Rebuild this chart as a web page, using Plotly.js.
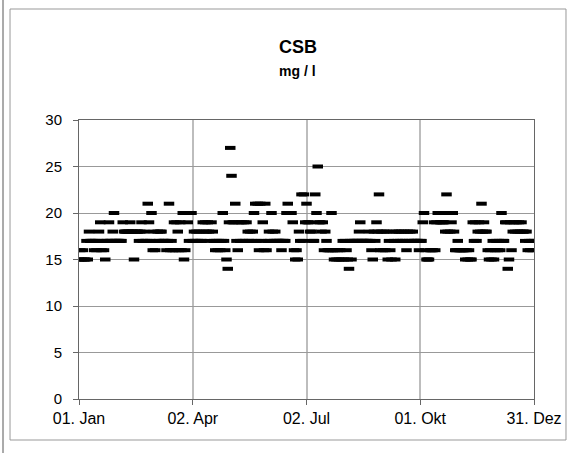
<!DOCTYPE html>
<html>
<head>
<meta charset="utf-8">
<script src="https://cdn.plot.ly/plotly-3.0.1.min.js"></script>
<style>html,body{margin:0;padding:0;background:#fff;}#chart{width:574px;height:453px;}</style>
</head>
<body>
<div id="chart"></div>
<script>
// Daily CSB values (mg/l), 01. Jan .. 31. Dez
const csbValues = [
  15,16,15,16,15,15,17,15,18,17,
  17,17,16,17,16,17,18,19,16,17,
  16,15,17,17,19,17,17,18,20,17,
  17,17,17,17,17,19,18,18,18,18,
  18,19,18,18,15,18,18,18,17,18,
  19,17,18,17,17,21,19,17,20,16,
  18,16,17,18,17,18,18,17,17,17,
  16,17,21,16,17,16,19,16,19,18,
  16,19,16,20,15,16,20,19,17,20,
  20,17,18,17,18,17,18,17,17,19,
  18,19,18,19,18,17,19,18,17,16,
  17,16,17,16,17,20,17,16,15,14,
  19,27,24,19,19,21,17,16,19,17,
  19,17,19,17,19,18,17,18,17,18,
  20,21,17,21,16,21,17,19,16,21,
  16,17,18,17,20,18,17,18,17,17,
  17,17,16,17,17,17,20,21,20,20,
  20,19,16,15,16,15,18,17,22,17,
  22,19,21,19,19,18,18,17,17,22,
  20,25,19,19,18,19,16,18,17,16,
  16,16,20,16,15,16,15,16,15,16,
  15,17,15,17,16,15,14,17,15,17,
  17,17,17,17,18,19,17,17,17,17,
  17,17,18,17,16,15,18,17,19,18,
  22,16,18,16,18,16,18,15,17,16,
  15,18,17,15,18,17,18,17,18,17,
  18,17,16,18,17,18,17,18,17,17,
  17,17,16,17,17,19,20,16,15,15,
  15,16,16,16,19,16,19,20,20,19,
  19,19,19,18,22,18,20,18,19,20,
  18,16,16,17,16,16,16,16,16,15,
  16,15,16,15,15,19,17,19,17,18,
  19,18,21,18,19,18,18,16,15,16,
  15,17,15,16,17,16,17,16,20,17,
  17,19,19,14,15,19,16,18,19,18,
  19,18,19,18,19,18,18,17,18,16,
  17,16,17,16,17
];
const tickDays = [0, 91, 182, 273, 364];
const tickLabels = ["01. Jan", "02. Apr", "02. Jul", "01. Okt", "31. Dez"];
const yTicks = [0, 5, 10, 15, 20, 25, 30];
const chartTitle = "CSB";
const chartUnit = "mg / l";

const dayIndex = csbValues.map((_, i) => i);
const FONT = "Liberation Sans, Arial, sans-serif";

const trace = {
  x: dayIndex,
  y: csbValues,
  type: "scatter",
  mode: "markers",
  marker: {
    symbol: "line-ew",
    size: 7.5,
    color: "#000",
    line: { color: "#000", width: 4 }
  },
  hoverinfo: "x+y"
};

const layout = {
  width: 574,
  height: 453,
  margin: { l: 79, r: 40, t: 120, b: 54, pad: 0 },
  paper_bgcolor: "#fff",
  plot_bgcolor: "#fff",
  showlegend: false,
  font: { family: FONT, size: 15, color: "#000" },
  xaxis: {
    range: [0, 364],
    tickmode: "array",
    tickvals: tickDays,
    ticktext: tickLabels,
    ticks: "outside",
    ticklen: 5,
    tickcolor: "#666",
    showgrid: true,
    gridcolor: "#bdbdbd",
    gridwidth: 2,
    showline: true,
    linecolor: "#666",
    linewidth: 1,
    mirror: true,
    zeroline: false,
    tickfont: { family: FONT, size: 16, color: "#000" }
  },
  yaxis: {
    range: [0, 30],
    tickmode: "array",
    tickvals: yTicks,
    ticks: "outside",
    ticklen: 5,
    tickcolor: "#666",
    ticklabelstandoff: 8,
    showgrid: true,
    gridcolor: "#999",
    gridwidth: 1,
    showline: true,
    linecolor: "#666",
    linewidth: 1,
    mirror: true,
    zeroline: false,
    tickfont: { family: FONT, size: 15, color: "#000" }
  },
  annotations: [
    { text: "<b>" + chartTitle + "</b>", xref: "paper", yref: "paper", x: 0.481, y: 1.2616,
      xanchor: "center", yanchor: "middle", showarrow: false,
      font: { family: FONT, size: 18, color: "#000" } },
    { text: "<b>" + chartUnit + "</b>", xref: "paper", yref: "paper", x: 0.481, y: 1.1756,
      xanchor: "center", yanchor: "middle", showarrow: false,
      font: { family: FONT, size: 14, color: "#000" } }
  ],
  shapes: [
    { type: "rect", xref: "paper", yref: "paper", x0: -0.1516, x1: 1.0703, y0: -0.147, y1: 1.3978,
      line: { color: "#999", width: 1 }, fillcolor: "rgba(0,0,0,0)", layer: "below" },
    { type: "line", xref: "paper", yref: "paper", x0: -0.167, x1: -0.167, y0: -0.2, y1: 1.44,
      line: { color: "#aaa", width: 2 } }
  ]
};

Plotly.newPlot("chart", [trace], layout, { displayModeBar: false, staticPlot: true });
</script>
</body>
</html>
